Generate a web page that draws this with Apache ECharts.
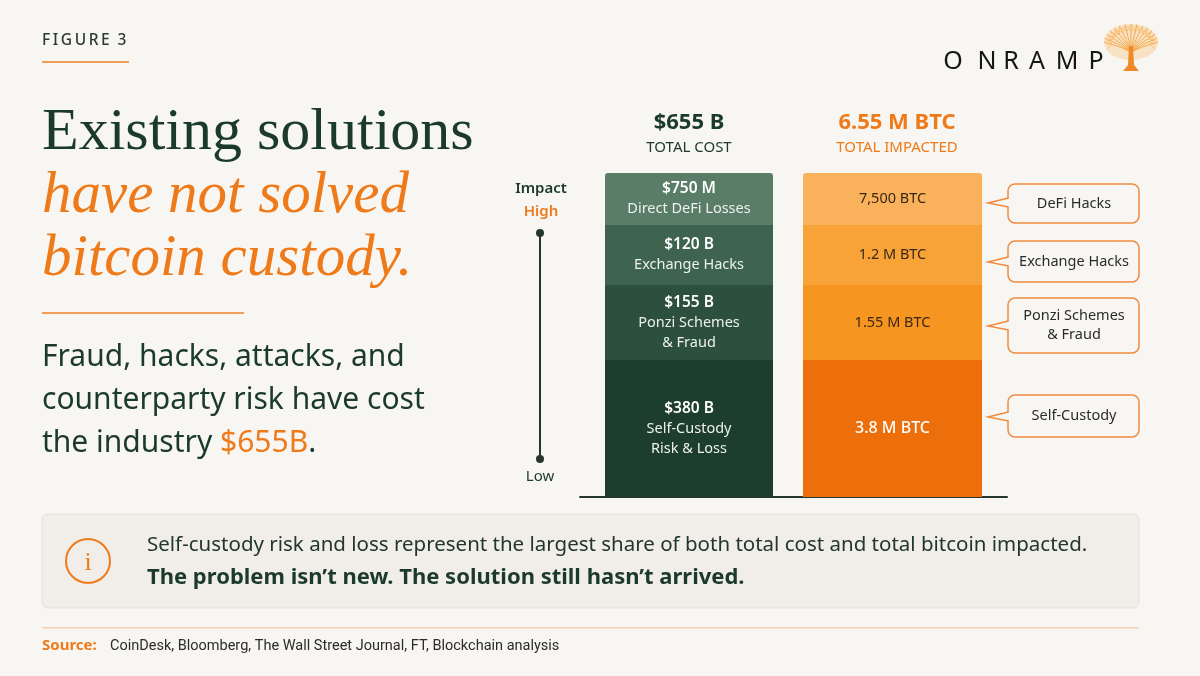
<!DOCTYPE html>
<html>
<head>
<meta charset="utf-8">
<script src="https://cdn.jsdelivr.net/npm/echarts@6/dist/echarts.min.js"></script>
<style>
  html, body { margin: 0; padding: 0; background: #f8f6f3; }
  #chart-container { width: 1200px; height: 676px; }
</style>
</head>
<body>
<div id="chart-container"></div>
<script>
var dom = document.getElementById('chart-container');
var myChart = echarts.init(dom, null, { renderer: 'canvas' });

// segments, listed bottom to top
var costValues = ['$380 B', '$155 B', '$120 B', '$750 M'];
var costNames = [['Self-Custody', 'Risk & Loss'], ['Ponzi Schemes', '& Fraud'], ['Exchange Hacks'], ['Direct DeFi Losses']];
var btcValues = ['3.8 M BTC', '1.55 M BTC', '1.2 M BTC', '7,500 BTC'];
var calloutNames = ['Self-Custody', 'Ponzi Schemes\n& Fraud', 'Exchange Hacks', 'DeFi Hacks'];
// segment heights as drawn in the figure (not proportional to the dollar values)
var drawnHeights = [137, 75, 60, 52];
var totalCost = '$655 B';
var totalBtc = '6.55 M BTC';

var greens = ['#1d3e2f', '#2c4f3e', '#3e6450', '#5a7d67'];
var oranges = ['#ec6f0b', '#f6951f', '#f8a337', '#f9b25b'];
var DARK = '#1c3a2c';
var ORANGE = '#ef7a1a';
var FAMILY = '"Noto Sans", sans-serif';
var SANS = '"Noto Sans", sans-serif';
var BG = '#f8f6f3';

var stackTotal = drawnHeights.reduce(function (a, b) { return a + b; }, 0);

var series = [];
drawnHeights.forEach(function (h, i) {
  var top = i === drawnHeights.length - 1;
  series.push({
    type: 'bar', xAxisIndex: 0, yAxisIndex: 0, stack: 'cost', barWidth: 168,
    data: [h], silent: true,
    itemStyle: { color: greens[i], borderRadius: top ? [3, 3, 0, 0] : 0 },
    label: {
      show: true, position: 'inside',
      formatter: function () {
        return ['{v|' + costValues[i] + '}'].concat(costNames[i].map(function (s) { return '{n|' + s + '}'; })).join('\n');
      },
      rich: {
        v: { color: '#ffffff', fontFamily: FAMILY, fontSize: 15.5, fontWeight: 600, lineHeight: 20 },
        n: { color: '#edf1ed', fontFamily: FAMILY, fontSize: 14.5, lineHeight: 20 }
      }
    }
  });
  series.push({
    type: 'bar', xAxisIndex: 1, yAxisIndex: 1, stack: 'btc', barWidth: 179,
    data: [h], silent: true,
    itemStyle: { color: oranges[i], borderRadius: top ? [3, 3, 0, 0] : 0 },
    label: {
      show: true, position: 'inside',
      formatter: btcValues[i],
      color: i === 0 ? '#ffffff' : '#3a2714',
      fontFamily: FAMILY,
      fontSize: i === 0 ? 16 : 14.5,
      fontWeight: i === 0 ? 500 : 'normal'
    }
  });
});

function txt(text, x, y, font, fill, align) {
  return { type: 'text', silent: true, style: { text: text, x: x, y: y, font: font, fill: fill, textAlign: align || 'left', textVerticalAlign: 'middle' } };
}

var g = [];
// header
g.push(txt('F\u2009I\u2009G\u2009U\u2009R\u2009E\u2009\u2009\u20093', 42, 41, '500 15.5px ' + SANS, '#2a3a33'));
g.push({ type: 'rect', shape: { x: 42, y: 61, width: 87, height: 2 }, style: { fill: '#f29c5c' } });

// title
g.push(txt('Existing solutions', 42, 133, '60px "Liberation Serif", serif', DARK));
g.push(txt('have not solved', 42, 196, 'italic 59px "Liberation Serif", serif', ORANGE));
g.push(txt('bitcoin custody.', 42, 259, 'italic 59px "Liberation Serif", serif', ORANGE));
g.push({ type: 'rect', shape: { x: 42, y: 312, width: 202, height: 2 }, style: { fill: '#f29c5c' } });

// subtitle
g.push(txt('Fraud, hacks, attacks, and', 42, 357, '30px ' + SANS, DARK));
g.push(txt('counterparty risk have cost', 42, 400, '30px ' + SANS, DARK));
g.push({ type: 'text', silent: true, style: {
  text: '{a|the industry }{b|$655B}{a|.}', x: 42, y: 443, textVerticalAlign: 'middle',
  rich: { a: { fontFamily: FAMILY, fontSize: 30, fill: DARK, color: DARK }, b: { fontFamily: FAMILY, fontSize: 30, fill: ORANGE, color: ORANGE } }
} });

// column headers
g.push(txt(totalCost, 689, 123, 'bold 22px ' + SANS, DARK, 'center'));
g.push(txt('TOTAL COST', 689, 148, '15px ' + SANS, DARK, 'center'));
g.push(txt(totalBtc, 897, 123, 'bold 22px ' + SANS, ORANGE, 'center'));
g.push(txt('TOTAL IMPACTED', 897, 148, '15px ' + SANS, ORANGE, 'center'));

// impact scale
g.push(txt('Impact', 541, 189, '600 15px ' + SANS, DARK, 'center'));
g.push(txt('High', 541, 212, '600 15px ' + SANS, ORANGE, 'center'));
g.push({ type: 'line', shape: { x1: 540, y1: 233, x2: 540, y2: 459 }, style: { stroke: '#26352e', lineWidth: 2 } });
g.push({ type: 'circle', shape: { cx: 540, cy: 233, r: 4 }, style: { fill: '#26352e' } });
g.push({ type: 'circle', shape: { cx: 540, cy: 459, r: 4 }, style: { fill: '#26352e' } });
g.push(txt('Low', 540, 477, '15px ' + SANS, DARK, 'center'));

// callouts
var boxes = [[395, 437, 417], [298, 353, 326], [241, 282, 262], [184, 223, 203]];
boxes.forEach(function (b, i) {
  g.push({ type: 'rect', shape: { x: 1008, y: b[0], width: 131, height: b[1] - b[0], r: 7 }, style: { fill: BG, stroke: '#f08b40', lineWidth: 1.5 } });
  g.push({ type: 'polygon', shape: { points: [[1010, b[2] - 5], [988, b[2]], [1010, b[2] + 4]] }, style: { fill: BG } });
  g.push({ type: 'polyline', shape: { points: [[1008.5, b[2] - 5], [988, b[2]], [1008.5, b[2] + 4]] }, style: { stroke: '#f08b40', lineWidth: 1.5, fill: null } });
  g.push({ type: 'text', silent: true, style: { text: calloutNames[i], x: 1074, y: (b[0] + b[1]) / 2, font: '14.5px ' + SANS, fill: '#2b2b2b', textAlign: 'center', textVerticalAlign: 'middle', lineHeight: 19 } });
});

// logo
var letters = ['O', 'N', 'R', 'A', 'M', 'P'];
var lx = [953, 987, 1011, 1037, 1067, 1096];
letters.forEach(function (c, i) { g.push(txt(c, lx[i], 62, '25px ' + SANS, '#151515', 'center')); });
(function () {
  var cx = 1131, base = 52;
  g.push({ type: 'ellipse', shape: { cx: cx, cy: 42, rx: 27, ry: 18 }, style: { fill: 'rgba(248,176,80,0.28)' } });
  for (var k = 0; k <= 14; k++) {
    var a = Math.PI * (1.0 + k / 14);
    var ex = cx + 27 * Math.cos(a), ey = 42 + 18 * Math.sin(a);
    var mx = cx + 11 * Math.cos(a), my = 47 + 8 * Math.sin(a);
    g.push({ type: 'polyline', shape: { points: [[cx, base], [mx, my], [ex, ey]] }, style: { stroke: '#f4a540', lineWidth: 0.9, fill: null } });
    g.push({ type: 'line', shape: { x1: (mx + ex) / 2, y1: (my + ey) / 2, x2: (mx + ex) / 2 + 7 * Math.cos(a + 0.7), y2: (my + ey) / 2 + 7 * Math.sin(a + 0.7) }, style: { stroke: '#f7b55e', lineWidth: 0.7 } });
    g.push({ type: 'line', shape: { x1: (mx + ex) / 2, y1: (my + ey) / 2, x2: (mx + ex) / 2 + 7 * Math.cos(a - 0.7), y2: (my + ey) / 2 + 7 * Math.sin(a - 0.7) }, style: { stroke: '#f7b55e', lineWidth: 0.7 } });
  }
  g.push({ type: 'polygon', shape: { points: [[cx - 2, 46], [cx + 2, 46], [cx + 3, 65], [cx + 8, 71], [cx - 8, 71], [cx - 3, 65]] }, style: { fill: '#f08a26' } });
})();

// info box
g.push({ type: 'rect', shape: { x: 42, y: 514, width: 1097, height: 94, r: 6 }, style: { fill: '#f1eeea', stroke: '#e5e1db', lineWidth: 1 } });
g.push({ type: 'circle', shape: { cx: 88, cy: 561, r: 22 }, style: { fill: null, stroke: ORANGE, lineWidth: 2 } });
g.push(txt('i', 88, 563, '26px "Liberation Serif", serif', ORANGE, 'center'));
g.push(txt('Self-custody risk and loss represent the largest share of both total cost and total bitcoin impacted.', 147, 545, '20.5px ' + SANS, '#22362c'));
g.push(txt('The problem isn\u2019t new. The solution still hasn\u2019t arrived.', 147, 578, 'bold 22px ' + SANS, DARK));

// footer
g.push({ type: 'rect', shape: { x: 42, y: 627, width: 1097, height: 1.5 }, style: { fill: '#f6d2b4' } });
g.push(txt('Source:', 42, 646, 'bold 15px ' + SANS, ORANGE));
g.push(txt('CoinDesk, Bloomberg, The Wall Street Journal, FT, Blockchain analysis', 110, 646, '14.5px "Liberation Sans Narrow", "Roboto", sans-serif', '#2b2b2b'));

var option = {
  backgroundColor: BG,
  animation: false,
  grid: [
    { left: 580, width: 218, top: 173, height: stackTotal },
    { left: 778, width: 229, top: 173, height: stackTotal }
  ],
  xAxis: [
    { gridIndex: 0, type: 'category', data: ['Total cost'], axisLine: { lineStyle: { color: '#26352e', width: 2 } }, axisTick: { show: false }, axisLabel: { show: false } },
    { gridIndex: 1, type: 'category', data: ['Total impacted'], axisLine: { lineStyle: { color: '#26352e', width: 2 } }, axisTick: { show: false }, axisLabel: { show: false } }
  ],
  yAxis: [
    { gridIndex: 0, type: 'value', min: 0, max: stackTotal, show: false },
    { gridIndex: 1, type: 'value', min: 0, max: stackTotal, show: false }
  ],
  series: series,
  graphic: { elements: g }
};

myChart.setOption(option);
</script>
</body>
</html>
